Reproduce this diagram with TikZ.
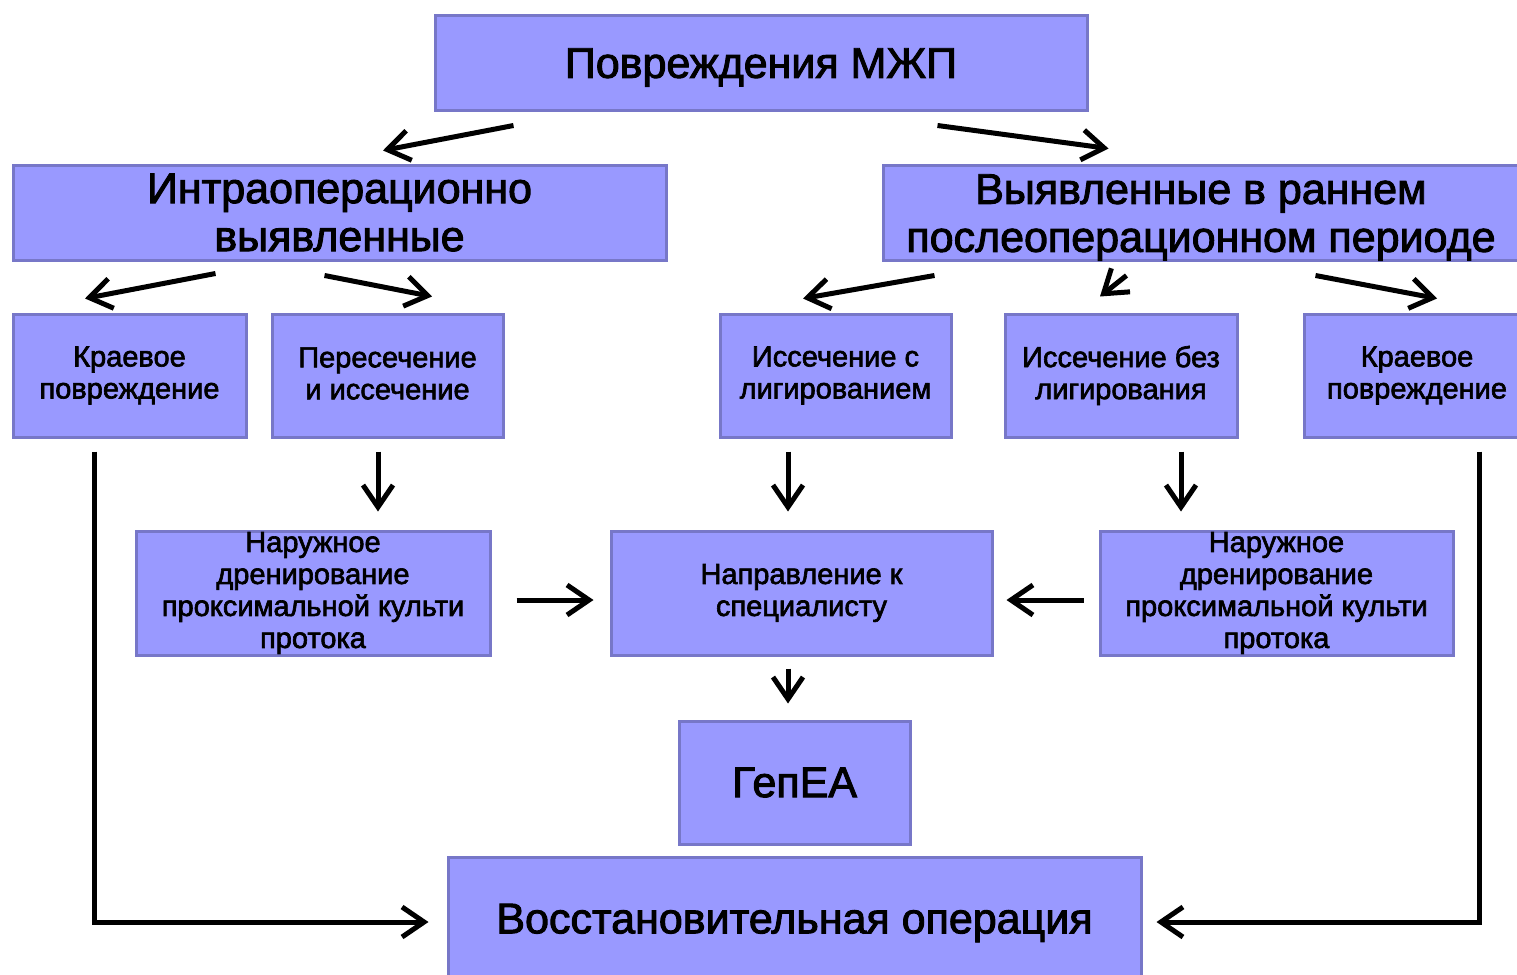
\documentclass[tikz,border=0pt]{standalone}
\usepackage{fontspec}
\setmainfont{Liberation Sans}
\usetikzlibrary{arrows.meta,calc}
\definecolor{boxfill}{HTML}{9999FF}
\definecolor{boxline}{HTML}{7777C8}
\newcommand{\dn}[2]{\raisebox{-#1}[\height][\depth]{#2}}
\tikzset{
  box/.style={draw=boxline, fill=boxfill, line width=1.5pt, inner sep=0pt, align=center, text=black},
  big/.style={font=\fontsize{21.5}{24}\selectfont\addfontfeature{FakeBold=2.2}},
  small/.style={font=\fontsize{14.5}{16}\selectfont\addfontfeature{FakeBold=2.2}},
  arr/.style={line width=2.5pt, -{Straight Barb[length=11pt,width=15pt]}},
}
\begin{document}
\begin{tikzpicture}[x=0.5pt,y=-0.5pt]
\useasboundingbox (0,0) rectangle (1517,975);
% level 1
\node[box,big,minimum width=326pt,minimum height=47.5pt] (top) at (761,62.5) {\dn{2.5pt}{Повреждения МЖП}};
% level 2
\node[box,big,minimum width=326.5pt,minimum height=47.5pt] (L2) at (339.5,212.5) {Интраоперационно\\выявленные};
\node[box,big,minimum width=318pt,minimum height=47.5pt] (R2) at (1201,212.5) {\dn{2.5pt}{Выявленные в раннем}\\\dn{2.5pt}{послеоперационном периоде}};
% level 3
\node[box,small,minimum width=116.5pt,minimum height=61.5pt] (a1) at (129.5,375.5) {Краевое\\повреждение};
\node[box,small,minimum width=115.5pt,minimum height=61.5pt] (a2) at (387.5,375.5) {\dn{-1pt}{Пересечение}\\\dn{-1pt}{и иссечение}};
\node[box,small,minimum width=115.5pt,minimum height=61.5pt] (a3) at (835.5,375.5) {Иссечение с\\лигированием};
\node[box,small,minimum width=116pt,minimum height=61.5pt] (a4) at (1121,375.5) {Иссечение без\\лигирования};
\node[box,small,minimum width=113pt,minimum height=61.5pt] (a5) at (1417,375.5) {Краевое\\повреждение};
% level 4
\node[box,small,minimum width=177pt,minimum height=62pt] (d1) at (313,593) {Наружное\\дренирование\\проксимальной культи\\протока};
\node[box,small,minimum width=190.5pt,minimum height=62pt] (sp) at (801.5,593) {Направление к\\специалисту};
\node[box,small,minimum width=176.5pt,minimum height=62pt] (d2) at (1276.5,593) {Наружное\\дренирование\\проксимальной культи\\протока};
% level 5
\node[box,big,minimum width=115.5pt,minimum height=61.5pt] (gep) at (794.5,782.5) {ГепЕА};
\node[box,big,minimum width=346.5pt,minimum height=63pt] (rec) at (794.5,920) {\dn{1.5pt}{Восстановительная операция}};
% arrows
\draw[arr] ($(top.south west)+(80,14)$) -- ($(L2.north)+(43.5,-13)$);
\draw[arr] ($(top.south east)+(-151,14)$) -- ($(R2.north west)+(227,-15)$);
\draw[arr] ($(L2.south west)+(204,12)$) -- ($(a1.north)+(-44.5,-14)$);
\draw[arr] ($(L2.south west)+(313,14)$) -- ($(a2.north)+(44.5,-16)$);
\draw[arr] ($(R2.south west)+(53,14)$) -- ($(a3.north)+(-32.5,-14)$);
\draw[arr] ($(R2.south west)+(245,14)$) -- ($(a4.north)+(-21,-16)$);
\draw[arr] ($(R2.south west)+(434,14)$) -- ($(a5.north)+(20,-14)$);
\draw[arr] ($(a2.south)+(-9.5,13)$) -- ($(d1.north)+(65,-18)$);
\draw[arr] ($(a3.south)+(-47.5,13)$) -- ($(sp.north)+(-13.5,-18)$);
\draw[arr] ($(a4.south)+(60,13)$) -- ($(d2.north)+(-95.5,-18)$);
\draw[arr] ($(d1.east)+(25,7)$) -- ($(sp.west)+(-16,7)$);
\draw[arr] ($(d2.west)+(-15,7)$) -- ($(sp.east)+(13,7)$);
\draw[arr] ($(sp.south)+(-13.5,12)$) -- ($(gep.north)+(-6.5,-16)$);
\draw[arr] ($(a1.south)+(-35.5,13)$) |- ($(rec.west)+(-18,2)$);
\draw[arr] ($(a5.south)+(62,13)$) |- ($(rec.east)+(14,2)$);
\end{tikzpicture}
\end{document}
